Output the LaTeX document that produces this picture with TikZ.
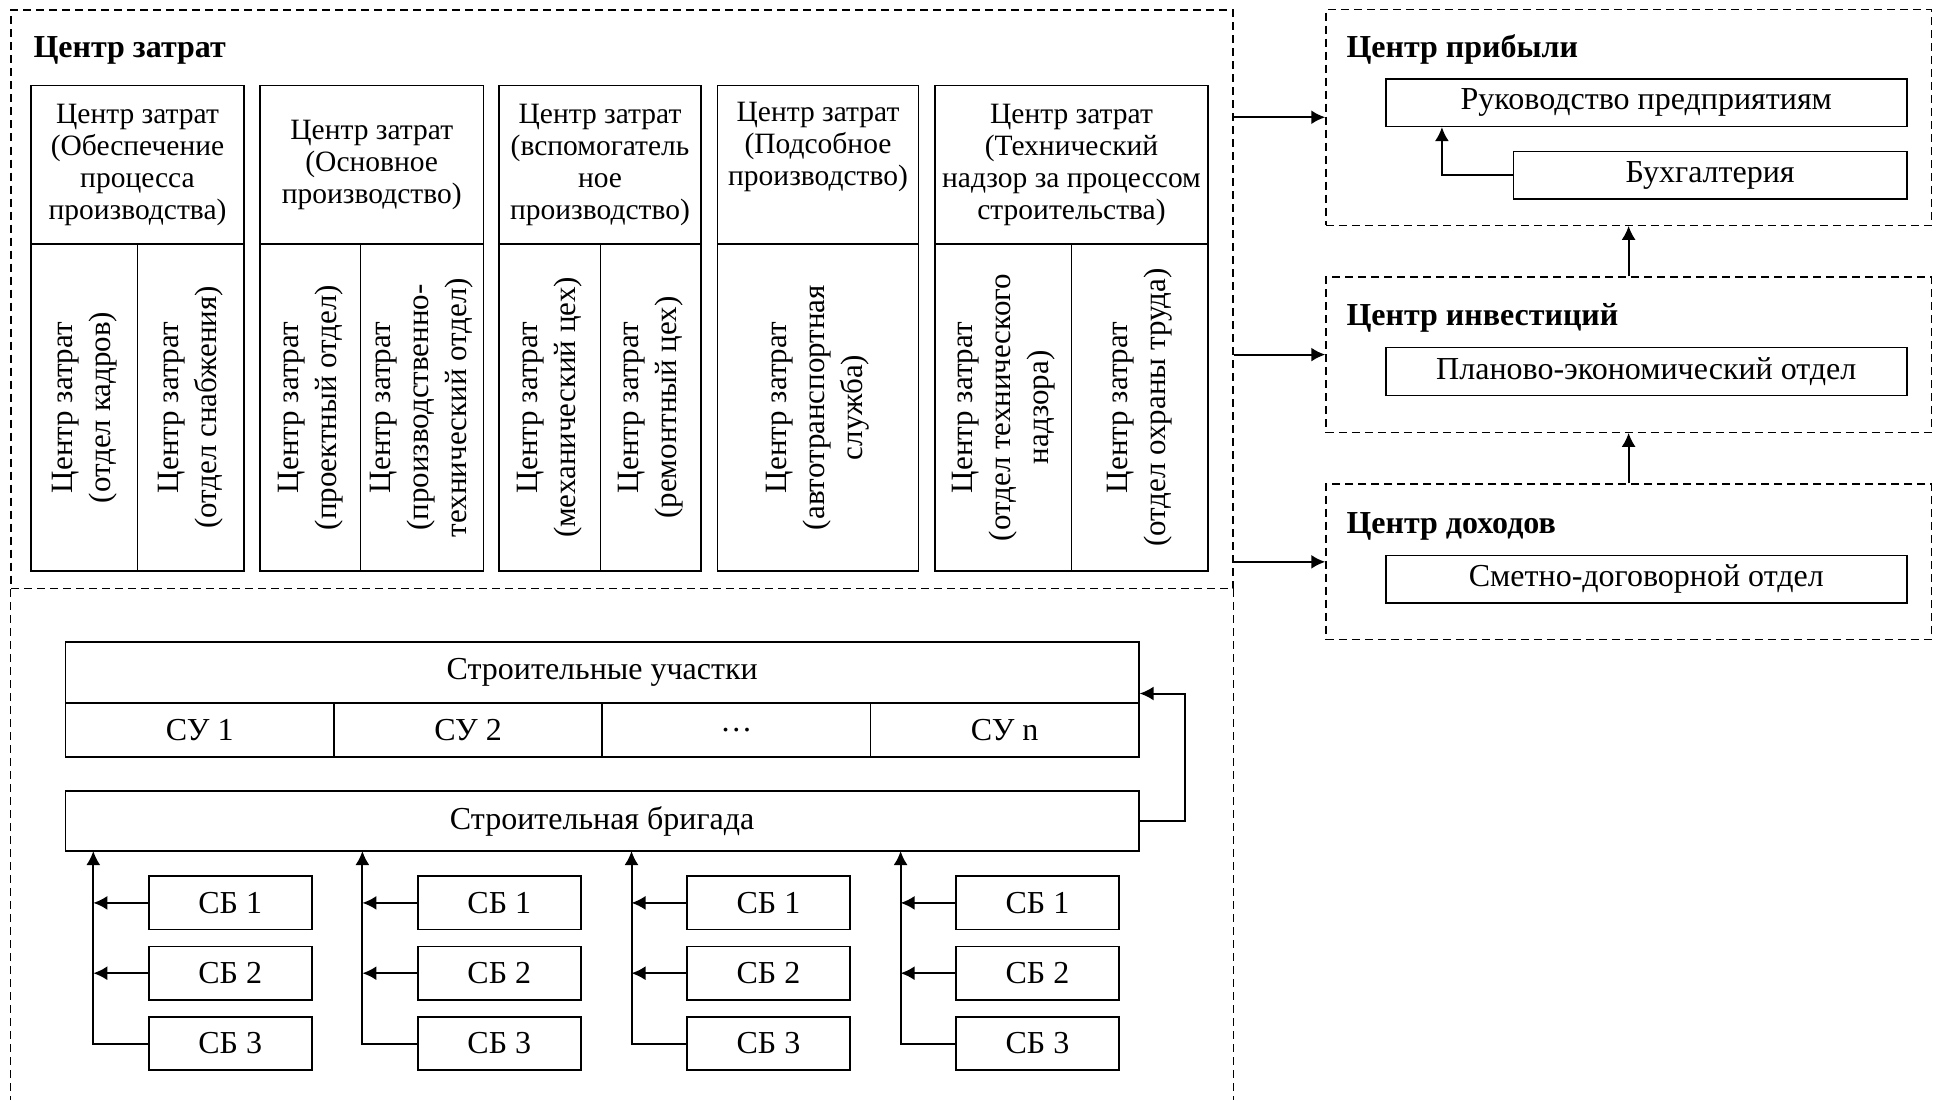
\documentclass[tikz,border=0pt]{standalone}
\usepackage{fontspec}
\setmainfont{Liberation Serif}
\usetikzlibrary{arrows.meta,positioning}

\tikzset{
  zone/.style={draw, line width=1.3pt, dash pattern=on 8pt off 5pt, inner sep=0pt},
  box/.style={draw, line width=1.6pt, align=center, font=\fontsize{32pt}{36pt}\selectfont},
  head/.style={box, minimum height=158.5pt, font=\fontsize{29.5pt}{32pt}\selectfont},
  cell/.style={box, rotate=90, minimum width=327pt, font=\fontsize{31pt}{38pt}\selectfont},
  title/.style={anchor=west, font=\fontsize{32pt}{36pt}\selectfont\bfseries},
  arr/.style={-{Latex[length=14pt,width=14pt]}, line width=2pt},
}

\begin{document}
\begin{tikzpicture}[x=1pt,y=1pt]
  \useasboundingbox (0,0) rectangle (1942,-1100);

  % Cost centres (upper part)
  \node[zone, minimum width=1222pt, minimum height=578.5pt] (costzone) at (622,-299.25) {};
  \node[title] (costtitle) at (30,-50) {Центр затрат};

  % column 1
  \node[head, minimum width=213pt] (h1) at (137.5,-164.75)
    {Центр затрат\\(Обеспечение\\процесса\\производства)};
  \node[cell, minimum height=106.5pt] (c1a) at (84.25,-407.5) {Центр затрат\\(отдел кадров)};
  \node[cell, minimum height=106.5pt] (c1b) at (190.75,-407.5) {Центр затрат\\(отдел снабжения)};

  % column 2
  \node[head, minimum width=223.5pt] (h2) at (371.75,-164.75)
    {Центр затрат\\(Основное\\производство)};
  \node[cell, minimum height=100.5pt] (c2a) at (310.25,-407.5) {Центр затрат\\(проектный отдел)};
  \node[cell, minimum height=123pt] (c2b) at (422,-407.5)
    {Центр затрат\\(производственно-\\технический отдел)};

  % column 3
  \node[head, minimum width=202pt] (h3) at (600,-164.75)
    {Центр затрат\\(вспомогатель\\ное\\производство)};
  \node[cell, minimum height=101.5pt] (c3a) at (549.75,-407.5) {Центр затрат\\(механический цех)};
  \node[cell, minimum height=100.5pt] (c3b) at (650.75,-407.5) {Центр затрат\\(ремонтный цех)};

  % column 4
  \node[head, minimum width=201pt] (h4) at (818,-164.75)
    {Центр затрат\\(Подсобное\\производство)\\\strut};
  \node[cell, minimum height=201pt] (c4a) at (818,-407.5)
    {Центр затрат\\(автотранспортная\\служба)};

  % column 5
  \node[head, minimum width=273pt] (h5) at (1071.5,-164.75)
    {Центр затрат\\(Технический\\надзор за процессом\\строительства)};
  \node[cell, minimum height=136.5pt] (c5a) at (1003.25,-407.5)
    {Центр затрат\\(отдел технического\\надзора)};
  \node[cell, minimum height=136.5pt] (c5b) at (1139.75,-407.5)
    {Центр затрат\\(отдел охраны труда)};

  % lower part of the cost zone
  \draw[zone] (costzone.south west) -- (costzone.south west |- 0,-1100);
  \draw[zone] (costzone.south east) -- (costzone.south east |- 0,-1100);

  % construction sites
  \node[box, minimum width=1073.2pt, minimum height=60.7pt] (sites) at (602.2,-672.35)
    {Строительные участки};
  \foreach \i/\txt in {0/СУ 1, 1/СУ 2, 2/…, 3/СУ n}
    \node[box, minimum width=268.3pt, minimum height=54.1pt] (su\i)
      at (199.75+268.3*\i,-729.75) {\txt};

  % construction brigade
  \node[box, minimum width=1073.2pt, minimum height=60pt] (brig) at (602.2,-821)
    {Строительная бригада};
  \draw[arr] (brig.east) -- ++(45,0) |- ([yshift=10pt]sites.south east);

  % brigade groups
  \foreach \i in {0,...,3} {
    \node[box, minimum width=163pt, minimum height=53.4pt] (sb\i a) at (230.2+269.1*\i,-902.9) {СБ 1};
    \node[box, minimum width=163pt, minimum height=53.4pt] (sb\i b) at (230.2+269.1*\i,-973.2) {СБ 2};
    \node[box, minimum width=163pt, minimum height=53.4pt] (sb\i c) at (230.2+269.1*\i,-1043.5) {СБ 3};
    \coordinate (bus\i) at (93.3+269.1*\i,-851);
    \draw[arr] (sb\i c.west) -| (bus\i);
    \draw[arr] (sb\i a.west) -- (sb\i a.west -| bus\i);
    \draw[arr] (sb\i b.west) -- (sb\i b.west -| bus\i);
  }

  % profit centre
  \node[zone, minimum width=605.4pt, minimum height=215.9pt] (profit) at (1628.6,-117.25) {};
  \node[title] (profittitle) at (1343,-49.7) {Центр прибыли};
  \node[box, minimum width=521.2pt, minimum height=47.6pt] (mgmt) at (1646.3,-102.5)
    {Руководство предприятиям};
  \node[box, minimum width=393.6pt, minimum height=47.2pt] (acct) at (1710.1,-175.1)
    {Бухгалтерия};
  \draw[arr] (acct.west) -| ([xshift=57pt]mgmt.south west);

  % investment centre
  \node[zone, minimum width=605.4pt, minimum height=155.2pt] (invest) at (1628.6,-354.6) {};
  \node[title] (investtitle) at (1343,-317.8) {Центр инвестиций};
  \node[box, minimum width=521.2pt, minimum height=48pt] (plan) at (1646.3,-371.6)
    {Планово-экономический отдел};

  % revenue centre
  \node[zone, minimum width=605.4pt, minimum height=155.7pt] (income) at (1628.6,-561.85) {};
  \node[title] (incometitle) at (1343,-526) {Центр доходов};
  \node[box, minimum width=521.2pt, minimum height=47.5pt] (estim) at (1646.3,-579.35)
    {Сметно-договорной отдел};

  % links between the centres
  \draw[arr] (invest.north) -- (profit.south);
  \draw[arr] (income.north) -- (invest.south);
  \draw[arr] (profit.west -| costzone.east) -- (profit.west);
  \draw[arr] (invest.west -| costzone.east) -- (invest.west);
  \draw[arr] (income.west -| costzone.east) -- (income.west);
\end{tikzpicture}
\end{document}
